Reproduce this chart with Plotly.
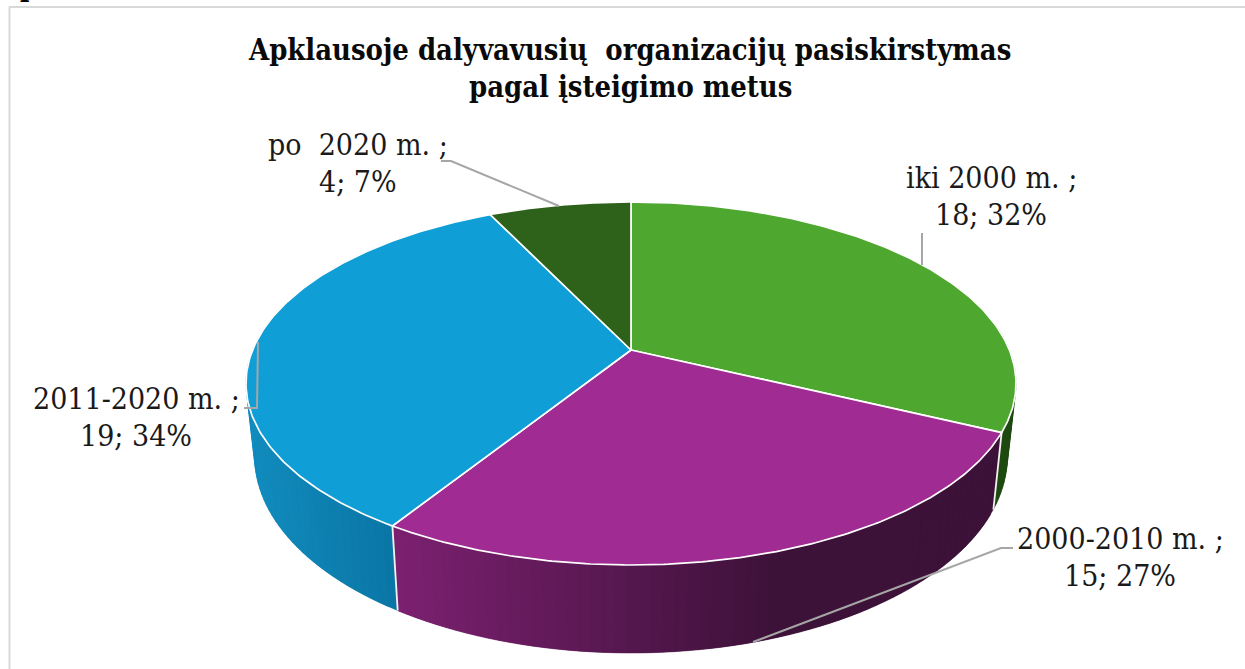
import math
import plotly.graph_objects as go

# ---- data ----
categories = ["iki 2000 m. ;", "2000-2010 m. ;", "2011-2020 m. ;", "po  2020 m. ;"]
values = [18, 15, 19, 4]
title_lines = ["Apklausoje dalyvavusių  organizacijų pasiskirstymas", "pagal įsteigimo metus"]
top_colors = ["#4EA72E", "#A02B93", "#0F9ED5", "#2E6119"]

# ---- view of the tilted pie (perspective projection of the two discs) ----
CX, CY, A, B, P = 631.0, 350.0, 378.4, 175.3, 0.1846
CY2, A2, B2 = 420.0, 370.0, 190.0
FONT = "DejaVu Serif Condensed, Liberation Serif, serif"
LEADER = "#A6A6A6"

def top_pt(t):
    X, Y = math.sin(t), math.cos(t)
    s = 1 / (1 + P * Y)
    return CX + A * X * s, CY - B * Y * s

def bot_pt(t):
    X, Y = math.sin(t), math.cos(t)
    s = 1 / (1 + P * Y)
    return CX + A2 * X * s, CY2 - B2 * Y * s

def lerp(c1, c2, f):
    f = max(0, min(1, f))
    return "rgb(%d,%d,%d)" % tuple(round(a + (b - a) * f) for a, b in zip(c1, c2))

def side_color(i, x):
    if i == 0:
        return "rgb(30,74,16)"
    if i == 1:
        return lerp((124, 32, 112), (61, 18, 57), (x - 400) / 380)
    return lerp((18, 140, 190), (10, 118, 165), (x - 250) / 148)

total = sum(values)
bounds = [0.0]
for v in values:
    bounds.append(bounds[-1] + v / total * 2 * math.pi)

fig = go.Figure()

def poly(xs, ys, fill, line=None, width=1.0):
    fig.add_trace(go.Scatter(x=xs, y=ys, mode="lines", fill="toself", fillcolor=fill,
                             line=dict(color=line or fill, width=width),
                             hoverinfo="skip", showlegend=False))

# sides: narrow overlapping strips so that the shading runs across the wall without seams
vis_start, vis_end = math.radians(78), math.radians(288)
for i in range(3):
    a0 = max(bounds[i], vis_start)
    a1 = min(bounds[i + 1], vis_end)
    n = max(4, int(math.degrees(a1 - a0) / 1.5))
    for k in range(n):
        t0 = a0 + (a1 - a0) * k / n
        t1 = a0 + (a1 - a0) * min(n, k + 2) / n
        arc = [t0 + (t1 - t0) * j / 4 for j in range(5)]
        p = [top_pt(t) for t in arc] + [bot_pt(t) for t in reversed(arc)]
        mx = (top_pt(t0)[0] + bot_pt(t0)[0]) / 2
        poly([q[0] for q in p] + [p[0][0]], [q[1] for q in p] + [p[0][1]], side_color(i, mx), width=0.3)

# white seams on the wall
for i in (1, 2):
    p0, p1 = top_pt(bounds[i]), bot_pt(bounds[i])
    fig.add_trace(go.Scatter(x=[p0[0], p1[0]], y=[p0[1], p1[1]], mode="lines",
                             line=dict(color="#F2F2F2", width=1.8), hoverinfo="skip", showlegend=False))

# top faces
for i, c in enumerate(top_colors):
    n = 160
    ang = [bounds[i] + (bounds[i + 1] - bounds[i]) * k / n for k in range(n + 1)]
    pts = [top_pt(t) for t in ang]
    poly([CX] + [q[0] for q in pts] + [CX], [CY] + [q[1] for q in pts] + [CY], c, line="#FFFFFF", width=1.7)

# leader lines
leaders = [
    ([922, 922], [233, 265]),
    ([1013, 1001, 753], [548, 548, 642]),
    ([244, 257, 258], [408, 408, 342]),
    ([441, 451, 559], [161, 161, 206]),
]
for lx, ly in leaders:
    fig.add_trace(go.Scatter(x=lx, y=ly, mode="lines", line=dict(color=LEADER, width=2),
                             hoverinfo="skip", showlegend=False))

annotations = []
def text(s, x, y, size, bold=False, color="#1A1A1A", anchor="center"):
    annotations.append(dict(x=x, y=y, xref="x", yref="y", text=f"<b>{s}</b>" if bold else s,
                            showarrow=False, xanchor=anchor, yanchor="middle",
                            font=dict(family=FONT, size=size, color=color)))

text(title_lines[0], 629, 50, 28.9, bold=True, color="#0A0A0A")
text(title_lines[1], 630, 87, 28.9, bold=True, color="#0A0A0A")

label_pos = [(991, 177, 214), (1120, 538, 575), (136, 398, 435), (358, 144, 181)]
for cat, v, (lx, y1, y2) in zip(categories, values, label_pos):
    text(cat, lx, y1, 30)
    text(f"{v}; {round(v / total * 100)}%", lx, y2, 30)

# clipped text fragment above the chart frame
annotations.append(dict(x=18, y=5, xref="x", yref="y", text="<b>p.</b>", showarrow=False,
                        xanchor="left", yanchor="bottom",
                        font=dict(family=FONT, size=28, color="#000000")))

fig.update_layout(
    width=1245, height=669, margin=dict(l=0, r=0, t=0, b=0),
    paper_bgcolor="white", plot_bgcolor="white", showlegend=False,
    xaxis=dict(range=[0, 1245], visible=False, fixedrange=True),
    yaxis=dict(range=[669, 0], visible=False, fixedrange=True),
    annotations=annotations,
    shapes=[
        dict(type="line", xref="x", yref="y", x0=9.5, x1=9.5, y0=7, y1=669, line=dict(color="#D9D9D9", width=2)),
        dict(type="line", xref="x", yref="y", x0=9, x1=1245, y0=7, y1=7, line=dict(color="#D9D9D9", width=2)),
    ],
)
fig.write_html("out.html", config=dict(displayModeBar=False),
               post_script="document.body.style.margin='0';document.documentElement.style.overflow='hidden';")
